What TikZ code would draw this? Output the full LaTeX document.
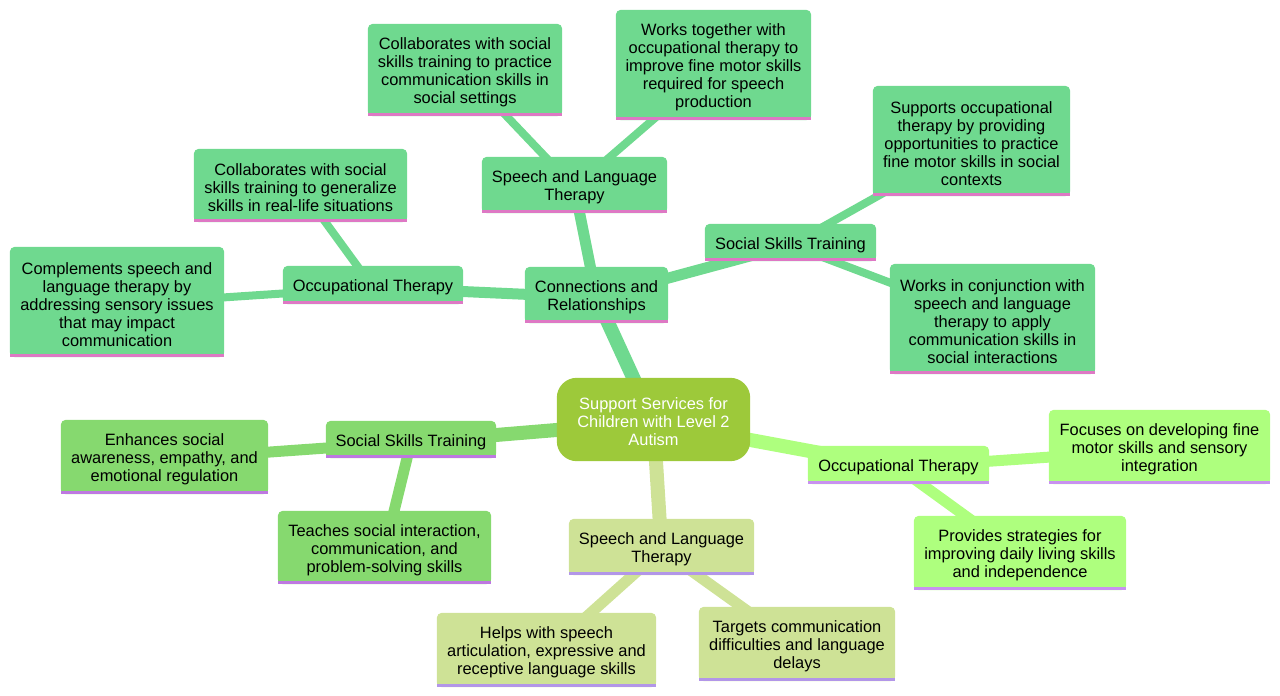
\documentclass[tikz,border=0pt]{standalone}
\usepackage{fontspec}
\setmainfont{Liberation Sans}
\usetikzlibrary{backgrounds}
\pgfdeclarelayer{edgelayer}
\pgfdeclarelayer{boxlayer}
\pgfsetlayers{edgelayer,boxlayer,main}
\definecolor{rootc}{RGB}{157,201,58}
\definecolor{connc}{RGB}{111,217,143}
\definecolor{connu}{RGB}{222,120,196}
\definecolor{sslc}{RGB}{134,217,111}
\definecolor{sslu}{RGB}{190,120,225}
\definecolor{slbc}{RGB}{206,226,150}
\definecolor{slbu}{RGB}{178,150,232}
\definecolor{otrc}{RGB}{174,255,126}
\definecolor{otru}{RGB}{200,145,240}
\newcommand{\mmbox}[3]{%
  \begin{pgfonlayer}{boxlayer}
    \fill[#2, rounded corners=5pt] ([yshift=2.5pt]#1.south west) rectangle ([yshift=2.5pt]#1.north east);
    \fill[#2] ([yshift=2.5pt]#1.south west) rectangle ([yshift=2.5pt]#1.east);
    \fill[#3] ([yshift=2.5pt]#1.south west) rectangle ([yshift=5.5pt]#1.south east);
  \end{pgfonlayer}}
\begin{document}
\begin{tikzpicture}[x=1pt,y=-1pt,
  mm/.style={inner sep=0pt, align=center, font=\fontsize{16.4}{18}\selectfont, text=black, yshift=-2.5pt},
  e1/.style={line width=14pt},
  e2/.style={line width=11pt},
  e3/.style={line width=8pt}]
\useasboundingbox (0,0) rectangle (1280,696);
% root
\node[mm, text=white, minimum width=193pt, minimum height=83pt] (root) at (653.5,419.5) {Support Services for\\Children with Level 2\\Autism};
\begin{pgfonlayer}{boxlayer}
\fill[rootc, rounded corners=20pt] ([yshift=2.5pt]root.south west) rectangle ([yshift=2.5pt]root.north east);
\end{pgfonlayer}
% connections branch
\node[mm, minimum width=143pt, minimum height=56pt] (conn) at (596.5,295) {Connections and\\Relationships};
\node[mm, minimum width=185pt, minimum height=56pt] (slt) at (574.5,185) {Speech and Language\\Therapy};
\node[mm, minimum width=194pt, minimum height=92pt] (cst) at (465,70) {Collaborates with social\\skills training to practice\\communication skills in\\social settings};
\node[mm, minimum width=195pt, minimum height=110pt] (wt) at (713.5,65) {Works together with\\occupational therapy to\\improve fine motor skills\\required for speech\\production};
\node[mm, minimum width=171pt, minimum height=37pt] (sst) at (790.5,242.5) {Social Skills Training};
\node[mm, minimum width=197pt, minimum height=110pt] (sup) at (971.5,141) {Supports occupational\\therapy by providing\\opportunities to practice\\fine motor skills in social\\contexts};
\node[mm, minimum width=205pt, minimum height=110pt] (wic) at (992.5,319) {Works in conjunction with\\speech and language\\therapy to apply\\communication skills in\\social interactions};
\node[mm, minimum width=180pt, minimum height=38pt] (ott) at (373,285) {Occupational Therapy};
\node[mm, minimum width=213pt, minimum height=73pt] (cg) at (300.5,185.5) {Collaborates with social\\skills training to generalize\\skills in real-life situations};
\node[mm, minimum width=214pt, minimum height=110pt] (comp) at (117,302) {Complements speech and\\language therapy by\\addressing sensory issues\\that may impact\\communication};
% social skills left
\node[mm, minimum width=170pt, minimum height=37pt] (ssl) at (411,439.5) {Social Skills Training};
\node[mm, minimum width=207pt, minimum height=74pt] (enh) at (164.5,457) {Enhances social\\awareness, empathy, and\\emotional regulation};
\node[mm, minimum width=213pt, minimum height=73pt] (tea) at (384.5,547.5) {Teaches social interaction,\\communication, and\\problem-solving skills};
% speech bottom
\node[mm, minimum width=185pt, minimum height=56pt] (slb) at (661.5,547) {Speech and Language\\Therapy};
\node[mm, minimum width=219pt, minimum height=74pt] (hel) at (546.5,650) {Helps with speech\\articulation, expressive and\\receptive language skills};
\node[mm, minimum width=196pt, minimum height=74pt] (tar) at (797,644) {Targets communication\\difficulties and language\\delays};
% OT right
\node[mm, minimum width=181pt, minimum height=38pt] (otr) at (898.5,465) {Occupational Therapy};
\node[mm, minimum width=221pt, minimum height=74pt] (foc) at (1159.5,447) {Focuses on developing fine\\motor skills and sensory\\integration};
\node[mm, minimum width=212pt, minimum height=74pt] (pro) at (1020,553) {Provides strategies for\\improving daily living skills\\and independence};
% boxes
\foreach \n in {conn,slt,cst,wt,sst,sup,wic,ott,cg,comp}{\mmbox{\n}{connc}{connu}}
\foreach \n in {ssl,enh,tea}{\mmbox{\n}{sslc}{sslu}}
\foreach \n in {slb,hel,tar}{\mmbox{\n}{slbc}{slbu}}
\foreach \n in {otr,foc,pro}{\mmbox{\n}{otrc}{otru}}
% edges
\begin{pgfonlayer}{edgelayer}
\draw[e1, connc] (root.center) -- (conn.center);
\draw[e1, sslc] (root.center) -- (ssl.center);
\draw[e1, slbc] (root.center) -- (slb.center);
\draw[e1, otrc] (root.center) -- (otr.center);
\draw[e2, connc] (conn.center) -- (slt.center);
\draw[e2, connc] (conn.center) -- (sst.center);
\draw[e2, connc] (conn.center) -- (ott.center);
\draw[e3, connc] (slt.center) -- (cst.center);
\draw[e3, connc] (slt.center) -- (wt.center);
\draw[e3, connc] (sst.center) -- (sup.center);
\draw[e3, connc] (sst.center) -- (wic.center);
\draw[e3, connc] (ott.center) -- (cg.center);
\draw[e3, connc] (ott.center) -- (comp.center);
\draw[e2, sslc] (ssl.center) -- (enh.center);
\draw[e2, sslc] (ssl.center) -- (tea.center);
\draw[e2, slbc] (slb.center) -- (hel.center);
\draw[e2, slbc] (slb.center) -- (tar.center);
\draw[e2, otrc] (otr.center) -- (foc.center);
\draw[e2, otrc] (otr.center) -- (pro.center);
\end{pgfonlayer}
\end{tikzpicture}
\end{document}
